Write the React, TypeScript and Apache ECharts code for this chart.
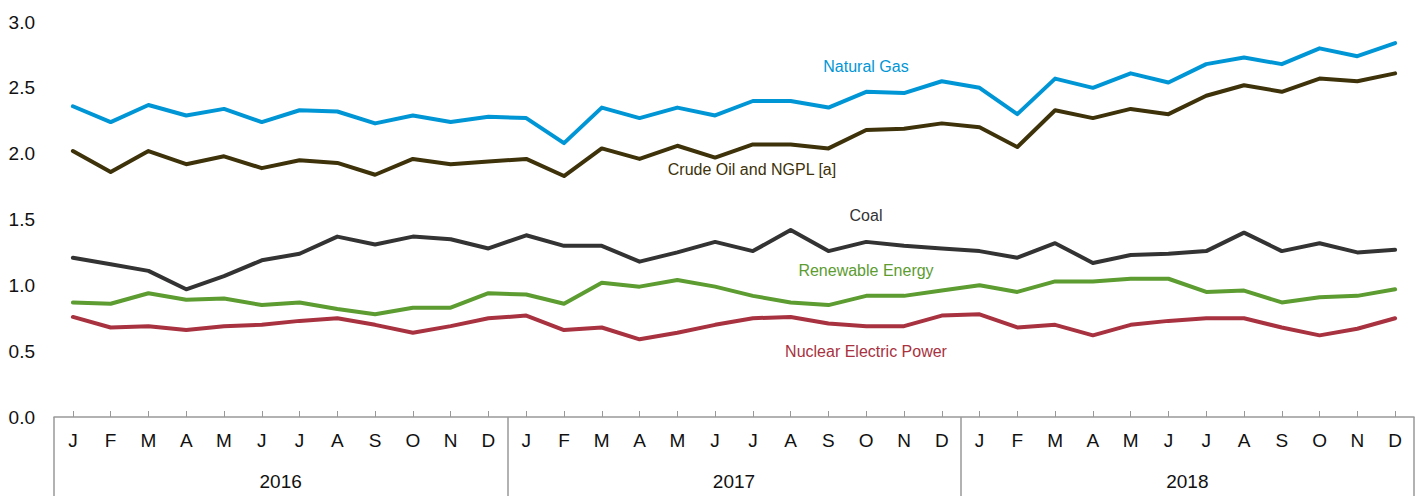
import React, { useEffect, useRef } from "react";
import * as echarts from "echarts";

const months = ["J","F","M","A","M","J","J","A","S","O","N","D"];
const years = ["2016", "2017", "2018"];
const categories: string[] = years.flatMap((y) => months.map((m) => m));

const naturalGas = [
  2.36, 2.24, 2.37, 2.29, 2.34, 2.24, 2.33, 2.32, 2.23, 2.29, 2.24, 2.28,
  2.27, 2.08, 2.35, 2.27, 2.35, 2.29, 2.40, 2.40, 2.35, 2.47, 2.46, 2.55,
  2.50, 2.30, 2.57, 2.50, 2.61, 2.54, 2.68, 2.73, 2.68, 2.80, 2.74, 2.84,
];
const crudeOil = [
  2.02, 1.86, 2.02, 1.92, 1.98, 1.89, 1.95, 1.93, 1.84, 1.96, 1.92, 1.94,
  1.96, 1.83, 2.04, 1.96, 2.06, 1.97, 2.07, 2.07, 2.04, 2.18, 2.19, 2.23,
  2.20, 2.05, 2.33, 2.27, 2.34, 2.30, 2.44, 2.52, 2.47, 2.57, 2.55, 2.61,
];
const coal = [
  1.21, 1.16, 1.11, 0.97, 1.07, 1.19, 1.24, 1.37, 1.31, 1.37, 1.35, 1.28,
  1.38, 1.30, 1.30, 1.18, 1.25, 1.33, 1.26, 1.42, 1.26, 1.33, 1.30, 1.28,
  1.26, 1.21, 1.32, 1.17, 1.23, 1.24, 1.26, 1.40, 1.26, 1.32, 1.25, 1.27,
];
const renewable = [
  0.87, 0.86, 0.94, 0.89, 0.90, 0.85, 0.87, 0.82, 0.78, 0.83, 0.83, 0.94,
  0.93, 0.86, 1.02, 0.99, 1.04, 0.99, 0.92, 0.87, 0.85, 0.92, 0.92, 0.96,
  1.00, 0.95, 1.03, 1.03, 1.05, 1.05, 0.95, 0.96, 0.87, 0.91, 0.92, 0.97,
];
const nuclear = [
  0.76, 0.68, 0.69, 0.66, 0.69, 0.70, 0.73, 0.75, 0.70, 0.64, 0.69, 0.75,
  0.77, 0.66, 0.68, 0.59, 0.64, 0.70, 0.75, 0.76, 0.71, 0.69, 0.69, 0.77,
  0.78, 0.68, 0.70, 0.62, 0.70, 0.73, 0.75, 0.75, 0.68, 0.62, 0.67, 0.75,
];

const seriesNames = ["Natural Gas", "Crude Oil and NGPL [a]", "Coal", "Renewable Energy", "Nuclear Electric Power"];
const seriesColors = ["#0096d6", "#3d3209", "#333333", "#5c9c31", "#a8323f"];
const seriesData = [naturalGas, crudeOil, coal, renewable, nuclear];

const FONT = "'Liberation Sans', Arial, sans-serif";

export default function App() {
  const ref = useRef<HTMLDivElement>(null);
  useEffect(() => {
    if (!ref.current) return;
    const chart = echarts.init(ref.current, undefined, { renderer: "svg" });
    const labelPos: [number, number][] = [
      [866, 66], [752, 169], [866, 215], [866, 270], [866, 351],
    ];
    chart.setOption({
      animation: false,
      grid: { left: 54, right: 9, top: 22, bottom: 79, containLabel: false },
      xAxis: [
        {
          type: "category",
          data: categories,
          boundaryGap: true,
          position: "bottom",
          axisLine: { show: true, lineStyle: { color: "#999999", width: 1.5 } },
          axisTick: { show: true, inside: true, alignWithLabel: true, length: 6, lineStyle: { color: "#999999" } },
          axisLabel: { interval: 0, fontSize: 19, color: "#111", margin: 14, fontFamily: FONT },
        },
        {
          type: "category",
          data: years,
          boundaryGap: true,
          position: "bottom",
          axisLine: { show: false },
          axisTick: { show: true, inside: false, length: 80, lineStyle: { color: "#999999", width: 1.5 } },
          axisLabel: { interval: 0, fontSize: 19, color: "#111", margin: 55, fontFamily: FONT },
        },
      ],
      yAxis: {
        type: "value",
        min: 0,
        max: 3,
        interval: 0.5,
        axisLine: { show: false },
        axisTick: { show: false },
        splitLine: { show: false },
        axisLabel: {
          fontSize: 19,
          color: "#111",
          margin: 19,
          fontFamily: FONT,
          formatter: (v: number) => v.toFixed(1),
        },
      },
      series: seriesData.map((d, i) => ({
        name: seriesNames[i],
        type: "line",
        xAxisIndex: 0,
        data: d,
        symbol: "none",
        lineStyle: { color: seriesColors[i], width: 4, cap: "round", join: "round" },
        z: 5 - i,
      })),
      graphic: seriesNames.map((n, i) => ({
        type: "text",
        x: labelPos[i][0],
        y: labelPos[i][1],
        style: {
          text: n,
          fill: seriesColors[i],
          font: `16px ${FONT}`,
          textAlign: "center",
          textVerticalAlign: "middle",
        },
      })),
    });
    return () => chart.dispose();
  }, []);
  return <div ref={ref} style={{ width: 1423, height: 496, position: "absolute", left: 0, top: 0 }} />;
}
